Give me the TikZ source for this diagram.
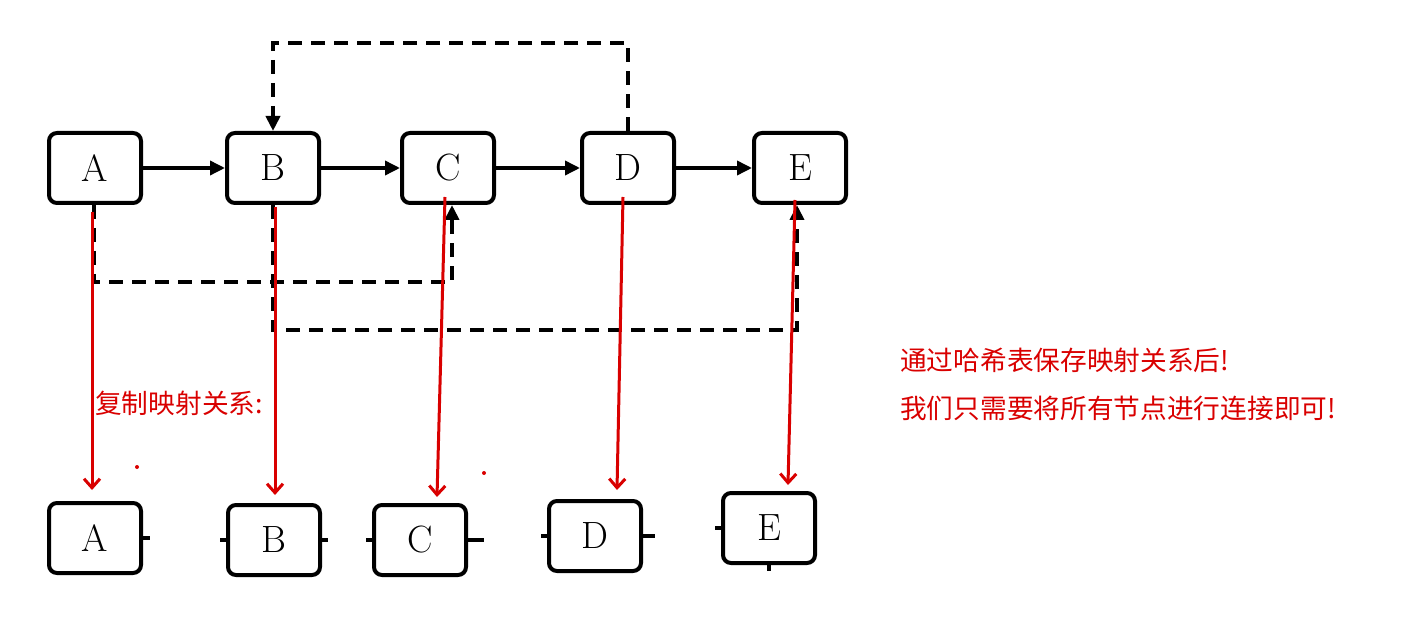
\documentclass[tikz,border=0pt]{standalone}
\usepackage{fontspec}
\newfontfamily\cjk{Noto Sans CJK SC}
\usetikzlibrary{arrows.meta}
\begin{document}
\begin{tikzpicture}[x=1pt,y=-1pt,
  box/.style={draw=black,line width=4pt,rounded corners=8pt,minimum width=92pt,minimum height=70pt,inner sep=0pt,font=\fontsize{38}{40}\selectfont},
  solidarr/.style={line width=3.5pt,-{Triangle[length=15pt,width=14pt]}},
  dasharr/.style={line width=4.5pt,dash pattern=on 14pt off 9pt,-{Triangle[length=15pt,width=14pt]}},
  redarr/.style={red!85!black,line width=3pt,-{Straight Barb[length=9pt,width=16pt]}},
  stub/.style={line width=4pt},
  redtxt/.style={red!85!black,anchor=west,inner sep=0pt,font=\cjk\fontsize{26.7}{28}\selectfont}]
\useasboundingbox (0,0) rectangle (1416,617);
\node[box] (A) at (95,168) {A};
\node[box] (B) at (273,168) {B};
\node[box] (C) at (448,168) {C};
\node[box] (D) at (628,168) {D};
\node[box] (E) at (800,168) {E};
\draw[solidarr] (A) -- (B);
\draw[solidarr] (B) -- (C);
\draw[solidarr] (C) -- (D);
\draw[solidarr] (D) -- (E);
\draw[dasharr] (D.north) -- ++(0,-88) -| (B.north);
\draw[dasharr] ([xshift=-1pt]A.south) -- ++(0,77) -| ([xshift=4pt]C.south);
\draw[dasharr] (B.south) -- ++(0,125) -| ([xshift=-3pt]E.south);
\node[box] (A2) at (95,538) {A};
\node[box] (B2) at (274,540) {B};
\node[box] (C2) at (420,540) {C};
\node[box] (D2) at (595,536) {D};
\node[box] (E2) at (769,528) {E};
\draw[stub] (A2.east) -- ++(7,0);
\draw[stub] (B2.west) -- ++(-6,0) (B2.east) -- ++(6,0);
\draw[stub] (C2.west) -- ++(-6,0) (C2.east) -- ++(16,0);
\draw[stub] (D2.west) -- ++(-6,0) (D2.east) -- ++(12,0);
\draw[stub] (E2.west) -- ++(-6,0) (E2.south) -- ++(0,6);
\coordinate (a1) at (92,212); \coordinate (a2) at (92,490);
\coordinate (b1) at (275,207); \coordinate (b2) at (275,495);
\coordinate (c1) at (445,197); \coordinate (c2) at (437,497);
\coordinate (d1) at (623,197); \coordinate (d2) at (617,490);
\coordinate (e1) at (795,200); \coordinate (e2) at (788,485);
\draw[redarr] (a1) -- (a2);
\draw[redarr] (b1) -- (b2);
\draw[redarr] (c1) -- (c2);
\draw[redarr] (d1) -- (d2);
\draw[redarr] (e1) -- (e2);
\fill[red!85!black] (137,467) circle (2pt) (484,473) circle (2pt);
\node[redtxt] (t1) at (95,403) {复制映射关系:};
\node[redtxt] (t2) at (900,360) {通过哈希表保存映射关系后!};
\node[redtxt] (t3) at (900,408) {我们只需要将所有节点进行连接即可!};
\end{tikzpicture}
\end{document}
